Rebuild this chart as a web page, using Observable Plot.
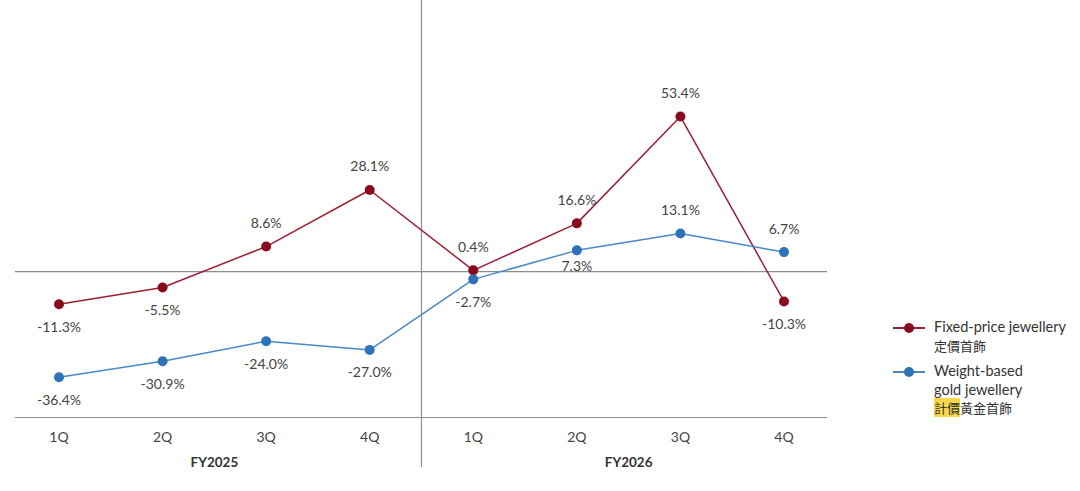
<!DOCTYPE html>
<html>
<head>
<meta charset="utf-8">
<script src="https://cdn.jsdelivr.net/npm/d3@7"></script>
<script src="https://cdn.jsdelivr.net/npm/@observablehq/plot@0.6"></script>
<style>
  html, body { margin: 0; padding: 0; background: #fff; }
  #wrap { position: relative; width: 1080px; height: 491px; font-family: Lato, "Noto Sans", sans-serif; }
  #legend { position: absolute; left: 893px; top: 318px; font-size: 14.5px; color: #333; line-height: 18.5px; }
  .item { display: flex; align-items: flex-start; margin-bottom: 7px; }
  .sw { width: 32px; height: 19px; position: relative; margin-right: 9px; flex: none; }
  .sw .ln { position: absolute; left: 0; right: 0; top: 9px; height: 2px; }
  .sw .dt { position: absolute; left: 11px; top: 5px; width: 10px; height: 10px; border-radius: 50%; }
  .hl { background: #f7d84a; }
  .cjk { font-family: "Noto Sans CJK TC", sans-serif; font-size: 13px; }
</style>
</head>
<body>
<div id="wrap">
  <div id="chart"></div>
  <div id="legend"></div>
</div>
<script>
const years = ["FY2025", "FY2026"];
const quarters = ["1Q", "2Q", "3Q", "4Q"];
const fixedPrice = [-11.3, -5.5, 8.6, 28.1, 0.4, 16.6, 53.4, -10.3];
const weightBased = [-36.4, -30.9, -24.0, -27.0, -2.7, 7.3, 13.1, 6.7];
const fixedLabelSide = ["below", "below", "above", "above", "above", "above", "above", "below"];
const weightLabelSide = ["below", "below", "below", "below", "below", "near", "above", "above"];
const seriesNames = ["Fixed-price jewellery", "Weight-based gold jewellery"];
const colors = { line: ["#9a1f33", "#4a88c7"], dot: ["#8a0a1e", "#2e72b8"] };

const rows = [];
years.forEach((yr, yi) => quarters.forEach((q, qi) => {
  const i = yi * quarters.length + qi;
  rows.push({ i, year: yr, q, s: 0, v: fixedPrice[i], side: fixedLabelSide[i] });
  rows.push({ i, year: yr, q, s: 1, v: weightBased[i], side: weightLabelSide[i] });
}));
const n = years.length * quarters.length;
const idx = d3.range(n);
const yearCenters = years.map((yr, yi) => ({ year: yr, x: d3.mean(idx.filter(i => Math.floor(i / quarters.length) === yi)) }));
const separators = d3.range(1, years.length).map(k => k * quarters.length - 0.5);

const textColor = "#444";
const fmt = d => d.v.toFixed(1) + "%";
const plot = Plot.plot({
  width: 1080,
  height: 491,
  marginLeft: 15,
  marginRight: 253,
  marginTop: 0,
  marginBottom: 74,
  style: { fontFamily: "Lato, 'Noto Sans', sans-serif", background: "transparent" },
  x: { domain: [-0.42, n - 1 + 0.42], axis: null },
  y: { domain: [-50.3, 93.4], axis: null },
  marks: [
    Plot.ruleY([0], { stroke: "#8c8c8c", strokeWidth: 1.2 }),
    Plot.ruleY([-50.3], { stroke: "#8c8c8c", strokeWidth: 1.2 }),
    Plot.ruleX(separators, { y1: 93.4, y2: -50.3, insetBottom: -50, stroke: "#8c8c8c", strokeWidth: 1.2 }),
    Plot.line(rows.filter(d => d.s === 0), { x: "i", y: "v", stroke: colors.line[0], strokeWidth: 1.5 }),
    Plot.line(rows.filter(d => d.s === 1), { x: "i", y: "v", stroke: colors.line[1], strokeWidth: 1.5 }),
    Plot.dot(rows, { x: "i", y: "v", r: 5, fill: d => colors.dot[d.s], stroke: "none" }),
    Plot.text(rows.filter(d => d.side === "above"), { x: "i", y: "v", text: fmt, dy: -23, fontSize: 14, fill: textColor }),
    Plot.text(rows.filter(d => d.side === "below"), { x: "i", y: "v", text: fmt, dy: 23, fontSize: 14, fill: textColor }),
    Plot.text(rows.filter(d => d.side === "near"), { x: "i", y: "v", text: fmt, dy: 16, fontSize: 14, fill: textColor }),
    Plot.text(idx, { x: d => d, y: -50.3, text: d => quarters[d % quarters.length], dy: 20, fontSize: 14, fill: textColor }),
    Plot.text(yearCenters, { x: "x", y: -50.3, text: "year", dy: 45, fontSize: 13.5, fontWeight: "bold", fill: "#333" })
  ]
});
document.getElementById("chart").appendChild(plot);

const legend = document.getElementById("legend");
legend.innerHTML = `
  <div class="item">
    <div class="sw"><div class="ln" style="background:${colors.line[0]}"></div><div class="dt" style="background:${colors.dot[0]}"></div></div>
    <div>${seriesNames[0]}<br><span class="cjk">定價首飾</span></div>
  </div>
  <div class="item">
    <div class="sw"><div class="ln" style="background:${colors.line[1]}"></div><div class="dt" style="background:${colors.dot[1]}"></div></div>
    <div>Weight-based<br>gold jewellery<br><span class="cjk"><span class="hl">計價</span>黃金首飾</span></div>
  </div>`;
</script>
</body>
</html>
